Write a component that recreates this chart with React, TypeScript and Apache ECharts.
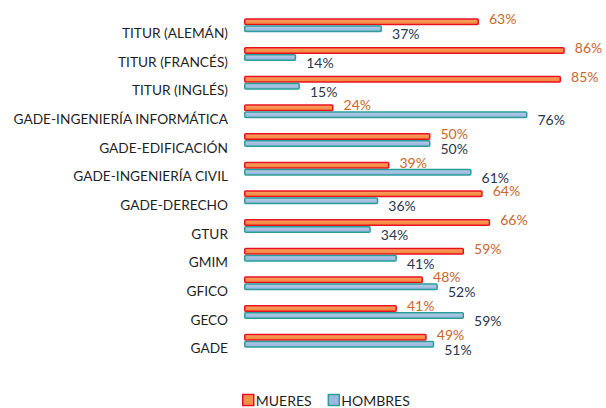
import React, { useEffect, useRef } from "react";
import * as echarts from "echarts";

const categories = [
  "TITUR (ALEMÁN)",
  "TITUR (FRANCÉS)",
  "TITUR (INGLÉS)",
  "GADE-INGENIERÍA INFORMÁTICA",
  "GADE-EDIFICACIÓN",
  "GADE-INGENIERÍA CIVIL",
  "GADE-DERECHO",
  "GTUR",
  "GMIM",
  "GFICO",
  "GECO",
  "GADE",
];
const mujeres = [63, 86, 85, 24, 50, 39, 64, 66, 59, 48, 41, 49];
const hombres = [37, 14, 15, 76, 50, 61, 36, 34, 41, 52, 59, 51];

export default function App() {
  const ref = useRef<HTMLDivElement>(null);
  useEffect(() => {
    const chart = echarts.init(ref.current!, null, { renderer: "svg" });
    const redFill = new echarts.graphic.LinearGradient(0, 0, 0, 1, [
      { offset: 0, color: "#F9A86E" },
      { offset: 0.5, color: "#F7904A" },
      { offset: 1, color: "#F58A3E" },
    ]);
    const blueFill = new echarts.graphic.LinearGradient(0, 0, 0, 1, [
      { offset: 0, color: "#B7CDEB" },
      { offset: 1, color: "#93B2DB" },
    ]);
    chart.setOption({
      animation: false,
      textStyle: { fontFamily: "Lato" },
      grid: { left: 244, top: 11, width: 373, height: 344, outerBoundsMode: "none", containLabel: false },
      xAxis: {
        type: "value",
        min: 0,
        max: 100,
        show: false,
      },
      yAxis: {
        type: "category",
        data: categories,
        inverse: true,
        axisLine: { show: false },
        axisTick: { show: false },
        splitLine: { show: false },
        axisLabel: {
          margin: 16,
          color: "#1f1f1f",
          fontSize: 13.7,
          fontFamily: "Lato",
          verticalAlign: "top",
        },
      },
      legend: {
        top: 393,
        padding: 0,
        left: 242,
        itemWidth: 11,
        itemHeight: 11,
        itemGap: 16,
        icon: "rect",
        textStyle: { fontSize: 14, color: "#1f1f1f", fontFamily: "Lato", padding: [0, 0, 0, -3] },
        data: [
          { name: "MUERES", itemStyle: { color: "#F7904A", borderColor: "#E8101E", borderWidth: 1.5 } },
          { name: "HOMBRES", itemStyle: { color: "#9DB9E0", borderColor: "#2A9E96", borderWidth: 1.5 } },
        ],
      },
      series: [
        {
          name: "MUERES",
          type: "bar",
          data: mujeres,
          barWidth: 7,
          barGap: "0%",
          itemStyle: { color: redFill, borderColor: "#E8101E", borderWidth: 1.5, borderRadius: 1 },
          label: {
            show: true,
            position: "right",
            distance: 10,
            formatter: "{c}%",
            color: "#C8672C",
            fontSize: 14,
            fontFamily: "Lato",
            offset: [0, -3],
          },
        },
        {
          name: "HOMBRES",
          type: "bar",
          data: hombres,
          barWidth: 7,
          barGap: "0%",
          itemStyle: { color: blueFill, borderColor: "#2A9E96", borderWidth: 1.5, borderRadius: 1 },
          label: {
            show: true,
            position: "right",
            distance: 10,
            formatter: "{c}%",
            color: "#2B3550",
            fontSize: 14,
            fontFamily: "Lato",
            offset: [0, 5],
          },
        },
      ],
    });
    return () => chart.dispose();
  }, []);
  return (
    <div
      ref={ref}
      style={{ position: "absolute", left: 0, top: 0, width: 606, height: 408 }}
    />
  );
}
